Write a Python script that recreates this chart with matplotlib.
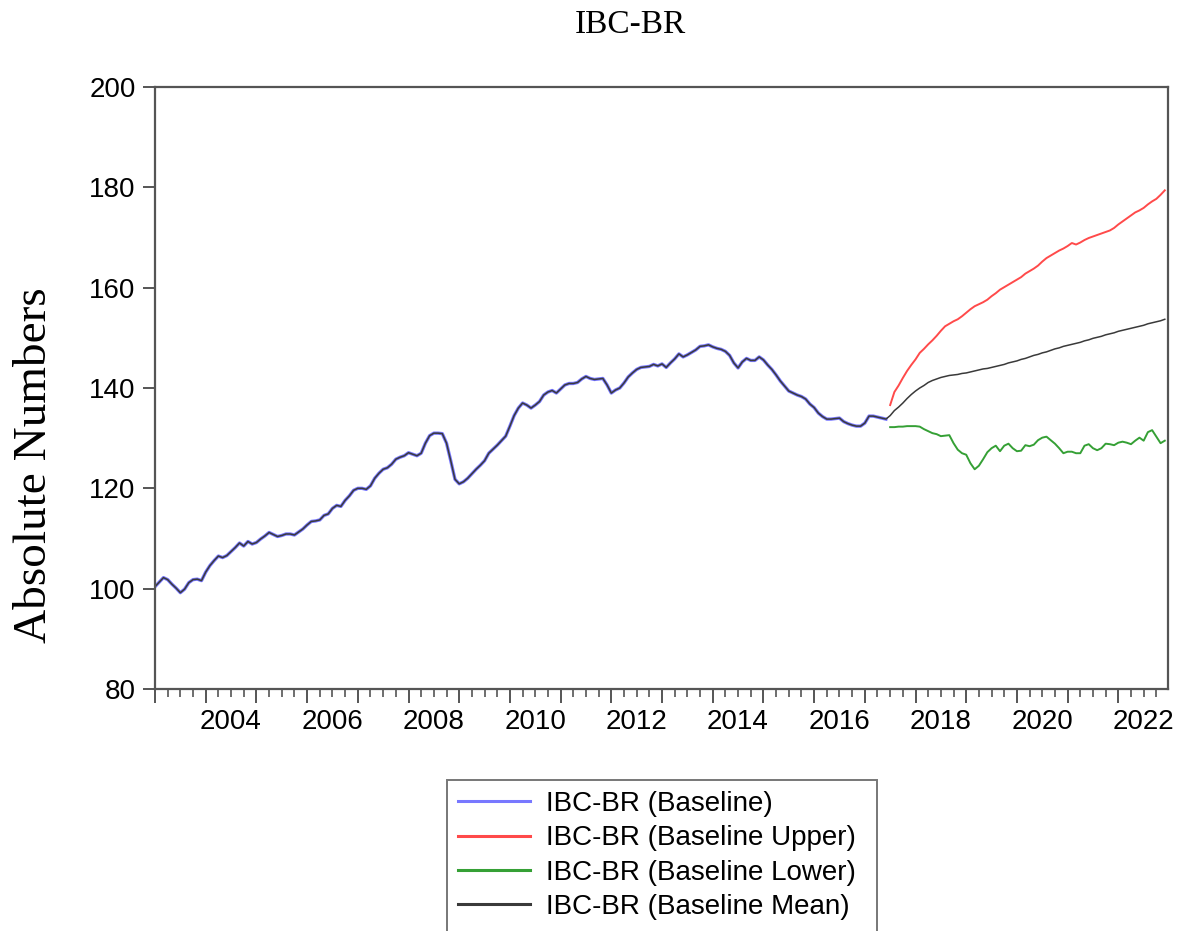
import matplotlib
matplotlib.use('Agg')
import matplotlib.pyplot as plt
from matplotlib.patches import Rectangle
import numpy as np

# monthly series, first observation 2003-01
start_year = 2003

# IBC-BR baseline (history, 2003-01 .. 2017-06)
baseline = [
    100.4, 101.3, 102.2, 101.8, 100.9, 100.1, 99.2, 99.9, 101.2, 101.8, 101.9, 101.6,
    103.3, 104.6, 105.6, 106.5, 106.2, 106.6, 107.4, 108.2, 109.1, 108.5, 109.4, 108.9,
    109.2, 109.9, 110.5, 111.2, 110.8, 110.4, 110.6, 110.9, 110.9, 110.7, 111.3, 111.9,
    112.7, 113.4, 113.5, 113.7, 114.6, 114.9, 116.0, 116.6, 116.4, 117.6, 118.5, 119.6,
    120.0, 120.0, 119.8, 120.5, 122.0, 123.0, 123.8, 124.1, 124.8, 125.8, 126.2, 126.5,
    127.1, 126.8, 126.5, 127.0, 129.0, 130.5, 131.0, 131.0, 130.9, 129.0, 125.5, 121.8,
    120.9, 121.3, 122.0, 122.9, 123.8, 124.6, 125.5, 127.0, 127.8, 128.6, 129.5, 130.4,
    132.4, 134.5, 136.0, 137.0, 136.6, 136.0, 136.6, 137.3, 138.6, 139.2, 139.5, 139.0,
    139.8, 140.6, 140.9, 140.9, 141.1, 141.8, 142.3, 141.9, 141.7, 141.8, 141.9, 140.6,
    139.0, 139.6, 140.0, 141.0, 142.2, 143.0, 143.7, 144.1, 144.2, 144.3, 144.7, 144.4,
    144.8, 144.1, 145.0, 145.8, 146.8, 146.2, 146.6, 147.1, 147.6, 148.3, 148.4, 148.6,
    148.2, 147.9, 147.7, 147.3, 146.5, 145.0, 144.0, 145.2, 145.9, 145.5, 145.5, 146.2,
    145.6, 144.6, 143.7, 142.6, 141.4, 140.4, 139.4, 139.0, 138.6, 138.3, 137.8, 136.8,
    136.1, 135.0, 134.3, 133.8, 133.8, 133.9, 134.0, 133.3, 132.9, 132.6, 132.4, 132.4,
    133.0, 134.4, 134.4, 134.2, 134.0, 133.8,
]

# forecasts, 2017-07 .. 2022-12
upper = [
    136.6, 139.2, 140.5, 142.0, 143.4, 144.6, 145.7, 147.0, 147.8, 148.7, 149.5, 150.4,
    151.4, 152.3, 152.8, 153.3, 153.7, 154.3, 155.0, 155.7, 156.3, 156.7, 157.1, 157.6,
    158.3, 158.9, 159.6, 160.1, 160.6, 161.1, 161.6, 162.1, 162.8, 163.3, 163.8, 164.4,
    165.2, 165.9, 166.4, 166.9, 167.4, 167.8, 168.3, 168.9, 168.6, 169.0, 169.5, 169.9,
    170.2, 170.5, 170.8, 171.1, 171.4, 171.9, 172.6, 173.2, 173.8, 174.4, 175.0, 175.4,
    175.9, 176.6, 177.2, 177.7, 178.5, 179.4,
]
lower = [
    132.2, 132.2, 132.3, 132.3, 132.4, 132.4, 132.4, 132.3, 131.8, 131.4, 131.0, 130.8,
    130.4, 130.5, 130.6, 129.0, 127.7, 127.0, 126.7, 125.0, 123.8, 124.5, 125.8, 127.2,
    128.0, 128.5, 127.4, 128.5, 128.9, 128.0, 127.4, 127.5, 128.6, 128.4, 128.7, 129.6,
    130.1, 130.3, 129.6, 128.9, 128.0, 127.0, 127.3, 127.3, 127.0, 127.0, 128.5, 128.8,
    128.0, 127.6, 128.0, 128.9, 128.8, 128.6, 129.1, 129.3, 129.1, 128.8, 129.5, 130.1,
    129.5, 131.2, 131.6, 130.3, 129.0, 129.5,
]
mean_fc = [
    134.5, 135.5, 136.2, 137.0, 137.9, 138.7, 139.4, 140.0, 140.5, 141.1, 141.5, 141.8,
    142.1, 142.3, 142.5, 142.6, 142.7, 142.9, 143.0, 143.2, 143.4, 143.6, 143.8, 143.9,
    144.1, 144.3, 144.5, 144.7, 145.0, 145.2, 145.4, 145.7, 145.9, 146.2, 146.5, 146.7,
    147.0, 147.2, 147.5, 147.8, 148.0, 148.3, 148.5, 148.7, 148.9, 149.1, 149.4, 149.6,
    149.9, 150.1, 150.3, 150.6, 150.8, 151.0, 151.3, 151.5, 151.7, 151.9, 152.1, 152.3,
    152.5, 152.8, 153.0, 153.2, 153.4, 153.7,
]

labels = ['IBC-BR (Baseline)', 'IBC-BR (Baseline Upper)',
          'IBC-BR (Baseline Lower)', 'IBC-BR (Baseline Mean)']
colors = ['#7878ff', '#ff4a4a', '#35a035', '#3a3a3a']

n_hist = len(baseline)
t_hist = start_year + np.arange(n_hist) / 12
t_fc = start_year + np.arange(n_hist, n_hist + len(upper)) / 12
# mean series follows the actual data in-sample
mean_all = baseline + mean_fc
t_all = start_year + np.arange(len(mean_all)) / 12

fig = plt.figure(figsize=(11.84, 9.31), dpi=100)
ax = fig.add_axes([155 / 1184, 1 - 689 / 931, (1168 - 155) / 1184, (689 - 87) / 931])

ax.plot(t_hist, baseline, color=colors[0], lw=2.4, label=labels[0])
ax.plot(t_fc, upper, color=colors[1], lw=1.4, label=labels[1])
ax.plot(t_fc, lower, color=colors[2], lw=1.4, label=labels[2])
ax.plot(t_all, mean_all, color=colors[3], lw=1.1, label=labels[3])

ax.set_xlim(2003.0, 2022.98)
ax.set_ylim(80, 200)

sans = 'Liberation Sans'
serif = 'Liberation Serif'
edge = '#555555'

# y axis
ax.set_yticks(np.arange(80, 201, 20))
ax.tick_params(axis='y', length=9, width=1.4, color=edge, pad=5, labelsize=20)
for lab in ax.get_yticklabels():
    lab.set_fontfamily(sans)

# x axis: year ticks, quarterly minor ticks, labels mid-year every 2 years
ax.set_xticks(np.arange(2003, 2023))
ax.set_xticklabels([])
ax.set_xticks(np.arange(2003, 2023, 0.25), minor=True)
ax.tick_params(axis='x', which='major', length=10, width=1.4, color=edge)
ax.tick_params(axis='x', which='minor', length=6, width=1.2, color=edge)
for yr in range(2004, 2023, 2):
    ax.text(yr + 0.5, -0.055, str(yr), transform=ax.get_xaxis_transform(),
            ha='center', va='center', fontsize=20, family=sans)

for s in ax.spines.values():
    s.set_color(edge)
    s.set_linewidth(1.6)

fig.text(630 / 1184, 1 - 25 / 931, 'IBC-BR', ha='center', va='center',
         fontsize=24, family=serif)
fig.text(35 / 1184, 1 - 465 / 931, 'Absolute Numbers', rotation=90,
         ha='center', va='center', fontsize=34, family=serif)

# legend box runs off the bottom of the figure
fig.patches.append(Rectangle((447 / 1184, -0.05), (877 - 447) / 1184,
                             1 - 780 / 931 + 0.05, transform=fig.transFigure,
                             facecolor='white', edgecolor='#777777', lw=1.4))
leg = fig.legend(loc='upper left', bbox_to_anchor=(447 / 1184, 1 - 780 / 931),
                 prop={'family': sans, 'size': 20}, frameon=False,
                 handlelength=2.6, handletextpad=0.55, labelspacing=0.3,
                 borderpad=0.4, borderaxespad=0)
for h in leg.get_lines():
    h.set_linewidth(2.2)

plt.savefig('out.png', dpi=100)
plt.close(fig)
